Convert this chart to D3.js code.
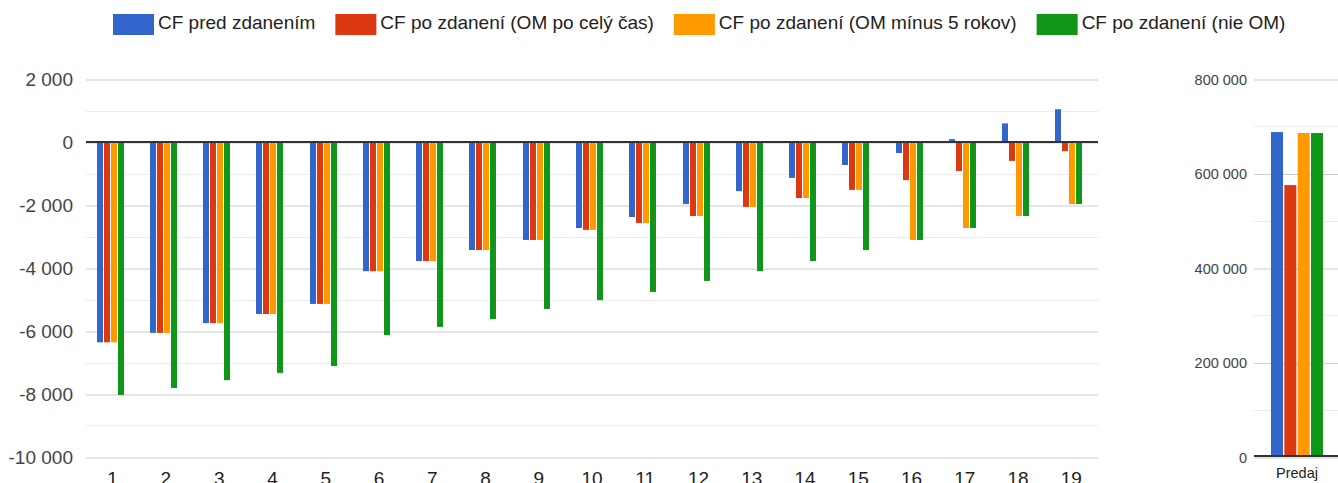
<!DOCTYPE html>
<html>
<head>
<meta charset="utf-8">
<script src="https://cdnjs.cloudflare.com/ajax/libs/d3/7.8.5/d3.min.js"></script>
<style>
  body { margin: 0; background: #fff; overflow: hidden; }
  #chartDiv { width: 1338px; height: 483px; }
  svg { display: block; font-family: "Liberation Sans", Arial, sans-serif; }
</style>
</head>
<body>
<div id="chartDiv"></div>
<script>
// Data
  const categories = ["1","2","3","4","5","6","7","8","9","10","11","12","13","14","15","16","17","18","19"];
  const seriesNames = [
    "CF pred zdanením",
    "CF po zdanení (OM po celý čas)",
    "CF po zdanení (OM mínus 5 rokov)",
    "CF po zdanení (nie OM)"
  ];
  const cfPred     = [-6360,-6060,-5750,-5460,-5140,-4100,-3780,-3430,-3110,-2730,-2380,-1970,-1560,-1140,-730,-350,90,590,1040];
  const cfOmCely   = [-6360,-6060,-5750,-5460,-5140,-4100,-3780,-3430,-3110,-2790,-2570,-2350,-2060,-1780,-1520,-1210,-920,-600,-290];
  const cfOmMinus5 = [-6360,-6060,-5750,-5460,-5140,-4100,-3780,-3430,-3110,-2790,-2570,-2350,-2060,-1780,-1520,-3110,-2730,-2350,-1970];
  const cfNieOm    = [-8030,-7810,-7560,-7330,-7110,-6130,-5870,-5620,-5300,-5020,-4760,-4410,-4100,-3780,-3430,-3110,-2730,-2350,-1970];

  const predajCategories = ["Predaj"];
  const predajValues = [687700, 575500, 685600, 685600];

  const leftTicks  = [-10000,-8000,-6000,-4000,-2000,0,2000];
  const leftMinor  = [-9000,-7000,-5000,-3000,-1000,1000];
  const rightTicks = [0,200000,400000,600000,800000];
  const rightMinor = [100000,300000,500000,700000];

  const colors = ["#3366cc","#dc3912","#ff9900","#109618"];

// Build Variables
  const vars = {
    left  : { x0: 86, x1: 1098, top: 79, bottom: 457, font: 19 },
    right : { x0: 1254, x1: 1340, top: 79, bottom: 457, font: 14.5 },
    legend: { x: 113, y: 14, sw: 41, sh: 21, font: 19 }
  };

  const rows = categories.map((c, i) => ({
    cat: c,
    vals: [cfPred[i], cfOmCely[i], cfOmMinus5[i], cfNieOm[i]]
  }));

  const sk = d3.formatLocale({ decimal: ",", thousands: "\u00a0", grouping: [3], currency: ["", " €"], minus: "-" });
  const fmt = sk.format(",d");

  let chartDiv = document.getElementById("chartDiv");
  let svg = d3.select(chartDiv).append("svg")
    .attr("width", 1338)
    .attr("height", 483);

// ---------- LEFT CHART ----------
  const xScale = d3.scaleBand().domain(categories).range([vars.left.x0, vars.left.x1]);
  const xInner = d3.scaleBand().domain(d3.range(4)).range([0, 27]).paddingInner(1 / 7);
  const yScale = d3.scaleLinear().domain([-10000, 2000]).range([vars.left.bottom, vars.left.top]);

  const gLeft = svg.append("g").attr("class", "leftChart");

  // minor gridlines
  gLeft.append("g").selectAll("line")
    .data(leftMinor).enter().append("line")
      .attr("x1", vars.left.x0).attr("x2", vars.left.x1)
      .attr("y1", d => Math.round(yScale(d)) + 0.5)
      .attr("y2", d => Math.round(yScale(d)) + 0.5)
      .attr("stroke", "#ebebeb");

  // y axis with major gridlines
  const yAxis = d3.axisLeft(yScale)
    .tickValues(leftTicks)
    .tickSize(-(vars.left.x1 - vars.left.x0))
    .tickPadding(13)
    .tickFormat(fmt);

  const yAxisG = gLeft.append("g")
    .attr("transform", `translate(${vars.left.x0},0.5)`)
    .call(yAxis);
  yAxisG.select(".domain").remove();
  yAxisG.selectAll(".tick line").attr("stroke", "#cccccc");
  yAxisG.selectAll(".tick text")
    .attr("fill", "#444")
    .style("font-size", vars.left.font + "px")
    .style("font-family", "inherit");

  // x labels
  const xAxis = d3.axisBottom(xScale).tickSize(0).tickPadding(0);
  const xAxisG = gLeft.append("g")
    .attr("transform", `translate(0,${vars.left.bottom})`)
    .call(xAxis);
  xAxisG.select(".domain").remove();
  xAxisG.selectAll(".tick text")
    .attr("y", 28)
    .attr("dy", 0)
    .attr("fill", "#222")
    .style("font-size", vars.left.font + "px")
    .style("font-family", "inherit");

  // bars
  const groupOffset = (xScale.bandwidth() - 27) / 2 - 2.5;
  const groups = gLeft.append("g").selectAll("g")
    .data(rows).enter().append("g")
      .attr("transform", d => `translate(${Math.round(xScale(d.cat) + groupOffset)},0)`);

  groups.selectAll("rect")
    .data(d => d.vals.map((v, i) => ({ v: v, i: i })))
    .enter().append("rect")
      .attr("x", d => xInner(d.i))
      .attr("width", xInner.bandwidth())
      .attr("y", d => yScale(Math.max(0, d.v)))
      .attr("height", d => Math.abs(yScale(d.v) - yScale(0)))
      .attr("fill", d => colors[d.i]);

  // baseline
  gLeft.append("line")
    .attr("x1", vars.left.x0).attr("x2", vars.left.x1)
    .attr("y1", yScale(0)).attr("y2", yScale(0))
    .attr("stroke", "#333").attr("stroke-width", 2);

// ---------- RIGHT CHART ----------
  const xScaleR = d3.scaleBand().domain(predajCategories).range([vars.right.x0, vars.right.x1]);
  const xInnerR = d3.scaleBand().domain(d3.range(4)).range([0, 52]).paddingInner(0.1);
  const yScaleR = d3.scaleLinear().domain([0, 800000]).range([vars.right.bottom, vars.right.top]);

  const gRight = svg.append("g").attr("class", "rightChart");

  gRight.append("g").selectAll("line")
    .data(rightMinor).enter().append("line")
      .attr("x1", vars.right.x0).attr("x2", vars.right.x1)
      .attr("y1", d => Math.round(yScaleR(d)) + 0.5)
      .attr("y2", d => Math.round(yScaleR(d)) + 0.5)
      .attr("stroke", "#ebebeb");

  const yAxisR = d3.axisLeft(yScaleR)
    .tickValues(rightTicks)
    .tickSize(-(vars.right.x1 - vars.right.x0))
    .tickPadding(7)
    .tickFormat(fmt);

  const yAxisRG = gRight.append("g")
    .attr("transform", `translate(${vars.right.x0},0.5)`)
    .call(yAxisR);
  yAxisRG.select(".domain").remove();
  yAxisRG.selectAll(".tick line").attr("stroke", "#cccccc");
  yAxisRG.selectAll(".tick text")
    .attr("fill", "#444")
    .style("font-size", vars.right.font + "px")
    .style("font-family", "inherit");

  const xAxisR = d3.axisBottom(xScaleR).tickSize(0).tickPadding(0);
  const xAxisRG = gRight.append("g")
    .attr("transform", `translate(0,${vars.right.bottom})`)
    .call(xAxisR);
  xAxisRG.select(".domain").remove();
  xAxisRG.selectAll(".tick text")
    .attr("y", 21)
    .attr("dy", 0)
    .attr("fill", "#222")
    .style("font-size", vars.right.font + "px")
    .style("font-family", "inherit");

  const groupOffsetR = (xScaleR.bandwidth() - 52) / 2;
  gRight.append("g")
    .attr("transform", `translate(${Math.round(xScaleR("Predaj") + groupOffsetR)},0)`)
    .selectAll("rect")
    .data(predajValues).enter().append("rect")
      .attr("x", (d, i) => xInnerR(i))
      .attr("width", xInnerR.bandwidth())
      .attr("y", d => yScaleR(d))
      .attr("height", d => yScaleR(0) - yScaleR(d))
      .attr("fill", (d, i) => colors[i]);

  gRight.append("line")
    .attr("x1", vars.right.x0).attr("x2", vars.right.x1)
    .attr("y1", yScaleR(0) - 1).attr("y2", yScaleR(0) - 1)
    .attr("stroke", "#333").attr("stroke-width", 2);

// ---------- LEGEND ----------
  const legendG = svg.append("g").attr("class", "legend");
  let lx = vars.legend.x;
  seriesNames.forEach((name, i) => {
    const item = legendG.append("g").attr("transform", `translate(${lx},0)`);
    item.append("rect")
      .attr("x", 0).attr("y", vars.legend.y)
      .attr("width", vars.legend.sw).attr("height", vars.legend.sh)
      .attr("fill", colors[i]);
    const t = item.append("text")
      .attr("x", vars.legend.sw + 4)
      .attr("y", 29)
      .attr("fill", "#222")
      .style("font-size", vars.legend.font + "px")
      .text(name);
    lx += vars.legend.sw + 4 + t.node().getComputedTextLength() + 20;
  });
</script>
</body>
</html>
